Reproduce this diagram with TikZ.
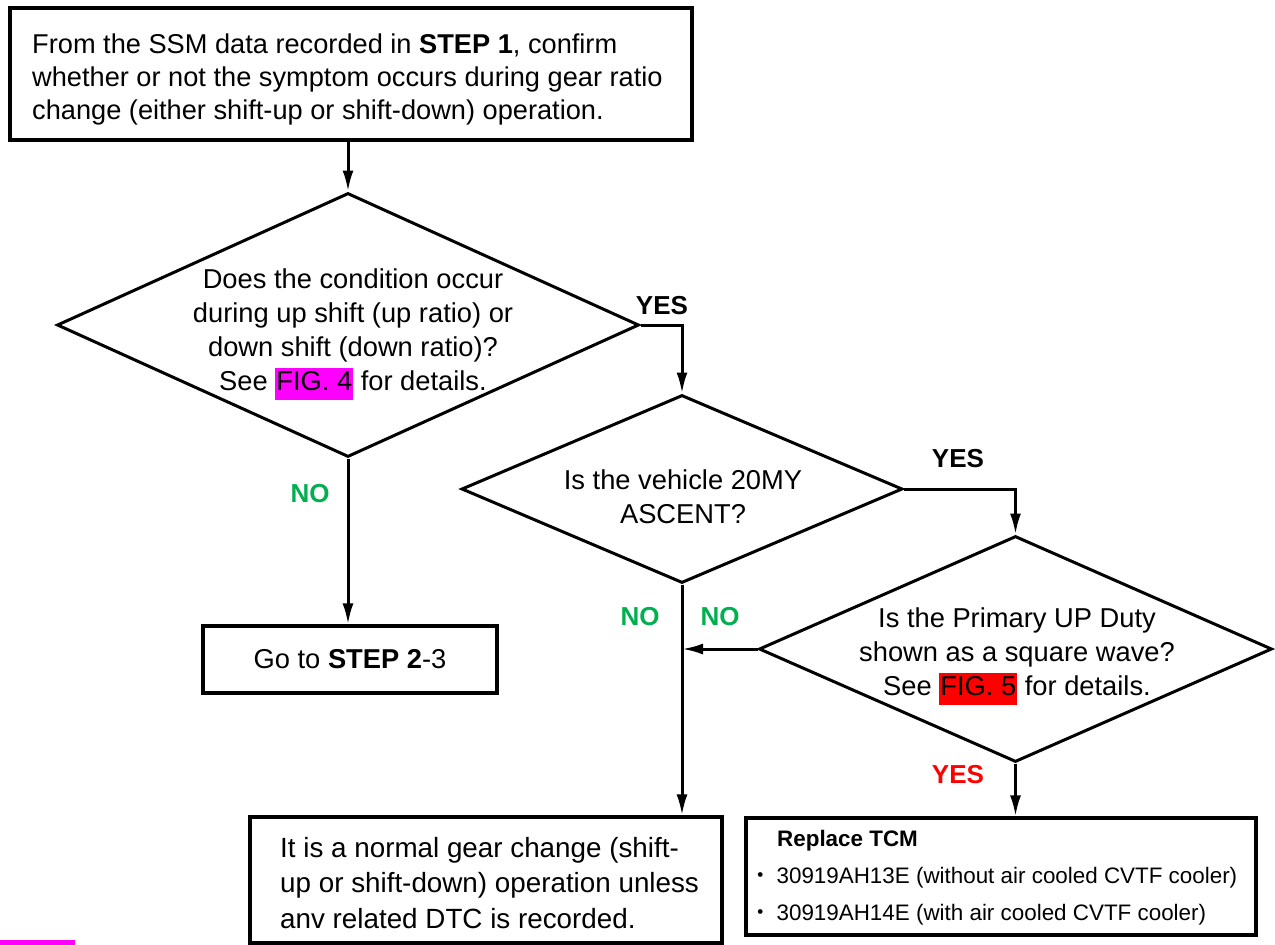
\documentclass[tikz,border=0pt]{standalone}
\usepackage{fontspec}
\setmainfont{Liberation Sans}
\newfontfamily\cjk{Noto Sans CJK JP}
\usetikzlibrary{shapes.geometric,arrows.meta}
\definecolor{nogreen}{RGB}{0,176,80}
\definecolor{yesred}{RGB}{255,0,0}
\definecolor{hlmag}{RGB}{255,0,255}
\newcommand\hlbox[2]{{\setlength\fboxsep{1pt}\smash{\colorbox{#1}{\rule[-8pt]{0pt}{30pt}#2}}}}
\tikzset{
  x=1pt, y=-1pt,
  every node/.style={font=\fontsize{27.3}{34}\selectfont},
  box/.style={draw, line width=3.2pt, rectangle, inner sep=0pt},
  decision/.style={draw, line width=3pt, diamond, inner sep=0pt},
  conn/.style={line width=3pt},
  arr/.style={conn, -{Latex[length=21pt,width=11pt]}},
  lblyes/.style={font=\fontsize{26}{30}\selectfont\bfseries},
  lblno/.style={font=\fontsize{26}{30}\selectfont\bfseries, text=nogreen},
}
\begin{document}
\begin{tikzpicture}
\useasboundingbox (0,0) rectangle (1275,945);
% boxes
\node[box, minimum width=682pt, minimum height=132pt] (start) at (351,74) {};
\node[align=left, anchor=north west, inner sep=0pt,
      font=\fontsize{27.2}{33}\selectfont] (starttxt) at (32,34)
  {From the SSM data recorded in \textbf{STEP 1}, confirm\\
   whether or not the symptom occurs during gear ratio\\
   change (either shift-up or shift-down) operation.};
% diamonds
\node[decision, minimum width=582pt, minimum height=264pt] (d1) at (348,325) {};
\node[align=center, inner sep=0pt] (d1txt) at (353,330)
  {Does the condition occur\\
   during up shift (up ratio) or\\
   down shift (down ratio)?\\
   See \hlbox{hlmag}{FIG. 4} for details.};
\node[decision, minimum width=441pt, minimum height=188pt] (d2) at (682,489) {};
\node[align=center, inner sep=0pt] (d2txt) at (683,497)
  {Is the vehicle 20MY\\ ASCENT?};
\node[decision, minimum width=513pt, minimum height=226pt] (d3) at (1015.5,649) {};
\node[align=center, inner sep=0pt] (d3txt) at (1017,652)
  {Is the Primary UP Duty\\
   shown as a square wave?\\
   See \hlbox{yesred}{FIG. 5} for details.};
% end boxes
\node[box, minimum width=294pt, minimum height=67pt] (goto) at (350,659.5)
  {Go to \textbf{STEP 2}-3};
\node[box, minimum width=472pt, minimum height=126pt] (normal) at (486,880) {};
\node[align=left, anchor=north west, inner sep=0pt,
      font=\fontsize{27.8}{35.5}\selectfont] (normaltxt) at (280,837)
  {It is a normal gear change (shift-\\
   up or shift-down) operation unless\\
   anv related DTC is recorded.};
\node[box, minimum width=510pt, minimum height=117pt] (tcm) at (1001,876.5) {};
\node[align=left, anchor=north west, inner sep=0pt,
      font=\fontsize{22.4}{37}\selectfont] (tcmtxt) at (749,830)
  {\hspace*{28pt}\textbf{Replace TCM}\\
   {\cjk ・}\hspace*{5pt}30919AH13E (without air cooled CVTF cooler)\\
   {\cjk ・}\hspace*{5pt}30919AH14E (with air cooled CVTF cooler)};
% connectors
\draw[arr] (start.south -| d1.north) -- (d1.north);
\draw[arr] (d1.east) -| (d2.north);
\draw[arr] (d1.south) -- (d1.south |- goto.north);
\draw[arr] (d2.east) -| (d3.north);
\draw[arr] (d2.south) -- (d2.south |- normal.north);
\draw[arr] (d3.west) -- (d3.west -| d2.south);
\draw[arr] (d3.south) -- (d3.south |- tcm.north);
% labels
\node[lblyes] (y1) at (662,306) {YES};
\node[lblyes] (y2) at (958,459) {YES};
\node[lblyes, text=yesred] (y3) at (958,775) {YES};
\node[lblno] (n1) at (310,494) {NO};
\node[lblno] (n2) at (640,617) {NO};
\node[lblno] (n3) at (720,617) {NO};
% stray highlight fragment at bottom-left
\fill[hlmag] (0,940) rectangle (75,945);
\end{tikzpicture}
\end{document}
